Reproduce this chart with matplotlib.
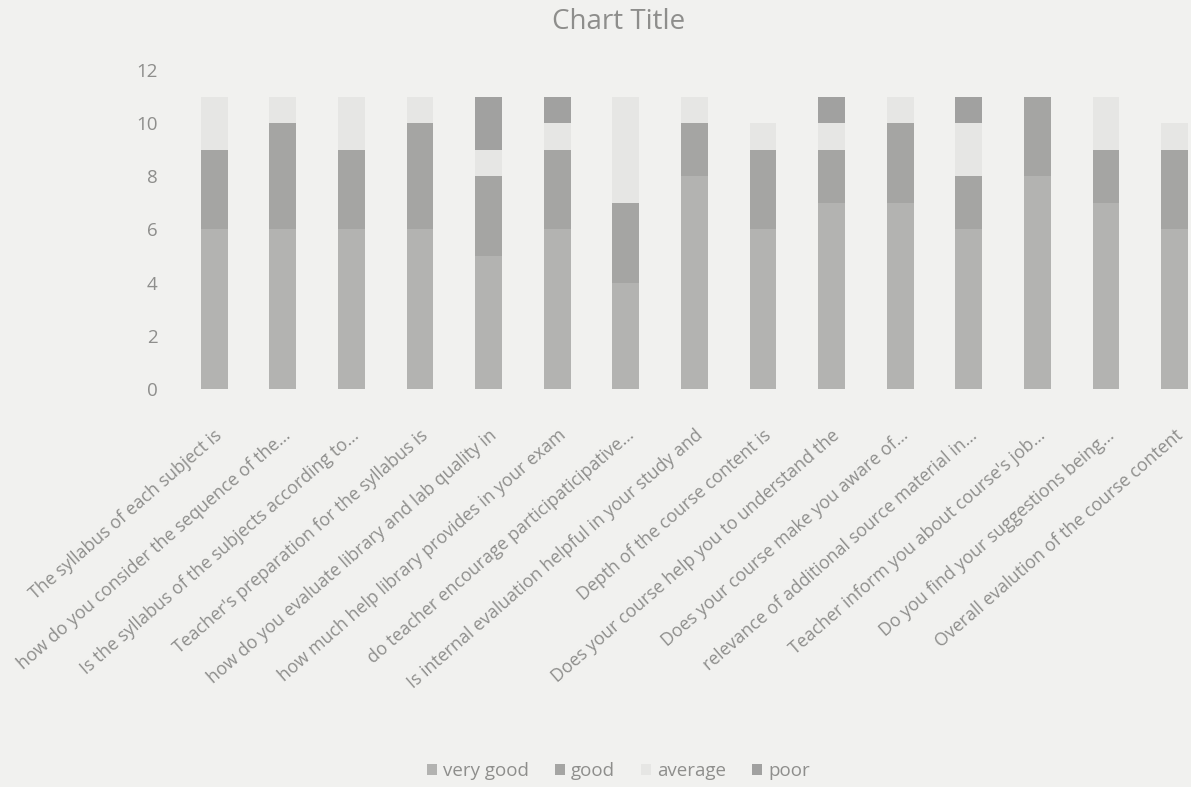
import numpy as np
import matplotlib.pyplot as plt

# survey questions (x axis labels, as truncated in the chart)
questions = [
    "The syllabus of each subject is",
    "how do you consider the sequence of the...",
    "Is the syllabus of the subjects according to...",
    "Teacher's preparation for the syllabus is",
    "how do you evaluate library and lab quality in",
    "how much help library provides in your exam",
    "do teacher encourage participaticipative...",
    "Is internal evaluation helpful in your study and",
    "Depth of the course content is",
    "Does your course help you to understand the",
    "Does your course make you aware of...",
    "relevance of additional source material in...",
    "Teacher inform you about course's job...",
    "Do you find your suggestions being...",
    "Overall evalution of the course content",
]

# answer counts per question
very_good = [6, 6, 6, 6, 5, 6, 4, 8, 6, 7, 7, 6, 8, 7, 6]
good = [3, 4, 3, 4, 3, 3, 3, 2, 3, 2, 3, 2, 3, 2, 3]
average = [2, 1, 2, 1, 1, 1, 4, 1, 1, 1, 1, 2, 0, 2, 1]
poor = [0, 0, 0, 0, 2, 1, 0, 0, 0, 1, 0, 1, 0, 0, 0]

series = [("very good", very_good, "#b3b3b1"),
          ("good", good, "#a5a5a3"),
          ("average", average, "#e6e6e4"),
          ("poor", poor, "#a1a1a0")]

bg = "#f1f1ef"
txt = "#8e8e8c"
plt.rcParams['font.family'] = ['Open Sans', 'DejaVu Sans']

fig = plt.figure(figsize=(11.91, 7.87), dpi=100, facecolor=bg)
ax = fig.add_axes([0.151, 0.506, 0.864, 0.405], facecolor=bg)

x = np.arange(len(questions))
bottom = np.zeros(len(questions))
for name, vals, col in series:
    ax.bar(x, vals, 0.39, bottom=bottom, color=col, label=name)
    bottom += np.array(vals)

ax.set_xlim(-0.5, len(questions) - 0.5)
ax.set_ylim(0, 12)
ax.set_yticks(range(0, 13, 2))
ax.tick_params(axis='y', length=0, colors=txt, labelsize=13.5, pad=16)
ax.tick_params(axis='x', length=0, pad=27)
ax.set_xticks(x)
ax.set_xticklabels(questions, rotation=41, ha='right', rotation_mode='anchor',
                   fontsize=12.8, color=txt)
for s in ax.spines.values():
    s.set_visible(False)

fig.text(0.519, 0.972, "Chart Title", ha='center', va='center', fontsize=20, color=txt)
fig.legend(loc='center', bbox_to_anchor=(0.519, 0.02), ncol=4, frameon=False,
           fontsize=13.5, labelcolor=txt, handlelength=0.55, handleheight=0.55,
           handletextpad=0.3, columnspacing=1.4)

fig.savefig("out.png", dpi=100, facecolor=bg)
